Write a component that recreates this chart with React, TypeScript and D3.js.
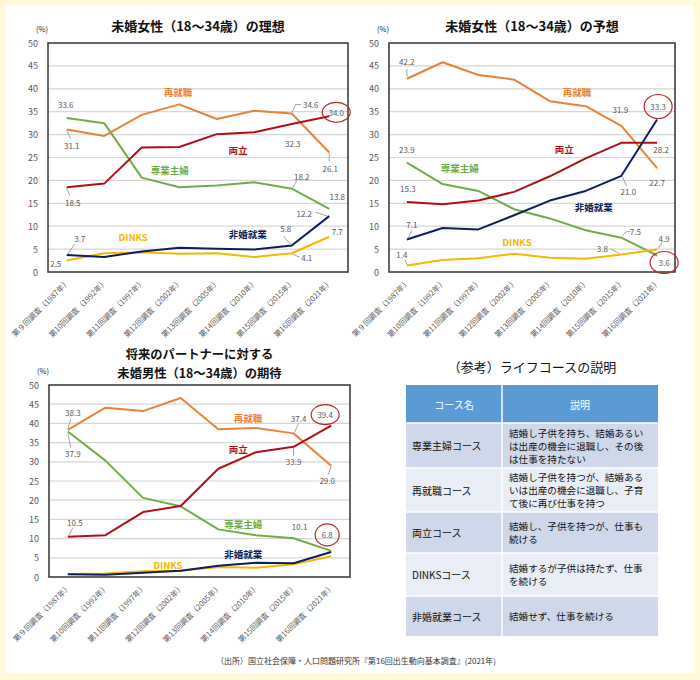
import React from "react";
import * as d3 from "d3";

const surveys = [
  "第９回調査（1987年）",
  "第10回調査（1992年）",
  "第11回調査（1997年）",
  "第12回調査（2002年）",
  "第13回調査（2005年）",
  "第14回調査（2010年）",
  "第15回調査（2015年）",
  "第16回調査（2021年）",
];
const yTicks = [0, 5, 10, 15, 20, 25, 30, 35, 40, 45, 50];
const seriesNames = ["専業主婦", "再就職", "両立", "DINKS", "非婚就業"];
const seriesColors = ["#70ad47", "#e8823a", "#b00f16", "#f5b800", "#0d1f5c"];

// Chart 1: 未婚女性の理想
const idealHousewife = [33.6, 32.5, 20.6, 18.5, 18.9, 19.6, 18.2, 13.8];
const idealReentry = [31.1, 29.7, 34.3, 36.6, 33.4, 35.2, 34.6, 26.1];
const idealBoth = [18.5, 19.3, 27.2, 27.3, 30.1, 30.5, 32.3, 34.0];
const idealDinks = [2.5, 4.1, 4.3, 4.0, 4.1, 3.3, 4.1, 7.7];
const idealSingle = [3.7, 3.3, 4.5, 5.3, 5.1, 4.9, 5.8, 12.2];

// Chart 2: 未婚女性の予想
const expHousewife = [23.9, 19.2, 17.7, 13.7, 11.7, 9.1, 7.5, 3.6];
const expReentry = [42.2, 45.8, 43.0, 42.0, 37.3, 36.2, 31.9, 22.7];
const expBoth = [15.3, 14.8, 15.6, 17.5, 20.9, 24.8, 28.2, 28.2];
const expDinks = [1.4, 2.6, 3.0, 4.0, 3.1, 2.9, 3.8, 4.9];
const expSingle = [7.1, 9.6, 9.3, 12.4, 15.6, 17.7, 21.0, 33.3];

// Chart 3: 未婚男性の期待
const menHousewife = [37.9, 30.3, 20.6, 18.4, 12.4, 10.9, 10.1, 6.8];
const menReentry = [38.3, 44.1, 43.2, 46.6, 38.5, 38.8, 37.4, 29.0];
const menBoth = [10.5, 10.9, 16.9, 18.5, 28.2, 32.5, 33.9, 39.4];
const menDinks = [0.8, 0.9, 1.5, 1.6, 2.6, 2.4, 3.3, 5.4];
const menSingle = [0.7, 0.6, 1.1, 1.6, 2.9, 3.7, 3.6, 6.5];

// Table
const tableHeaders = ["コース名", "説明"];
const courseNames = ["専業主婦コース", "再就職コース", "両立コース", "DINKSコース", "非婚就業コース"];
const courseDescLines = [
  ["結婚し子供を持ち、結婚あるい", "は出産の機会に退職し、その後", "は仕事を持たない"],
  ["結婚し子供を持つが、結婚ある", "いは出産の機会に退職し、子育", "て後に再び仕事を持つ"],
  ["結婚し、子供を持つが、仕事も", "続ける"],
  ["結婚するが子供は持たず、仕事", "を続ける"],
  ["結婚せず、仕事を続ける"],
];
const sourceText = "（出所）国立社会保障・人口問題研究所『第16回出生動向基本調査』(2021年)";

type Ann = { s: number; i: number; dx: number; dy: number; leader?: number[][]; ring?: [number, number] };
type NameLab = { s: number; i: number; v: number };
type ChartProps = {
  box: { x0: number; x1: number; y0: number; y1: number };
  data: number[][];
  titleLines: string[];
  titleY: number[];
  titleSize: number;
  anns: Ann[];
  names: NameLab[];
};

const FONT = "'Noto Sans CJK JP', 'Noto Sans', sans-serif";
const LABEL_GRAY = "#595959";

const chart1Anns: Ann[] = [
  { s: 0, i: 0, dx: -1, dy: -14 },
  { s: 1, i: 0, dx: 5, dy: 16, leader: [[0, 1], [4, 9]] },
  { s: 2, i: 0, dx: 6, dy: 15, leader: [[0, 1], [3, 8]] },
  { s: 4, i: 0, dx: 13, dy: -17, leader: [[1, -1], [8, -11]] },
  { s: 3, i: 0, dx: -11, dy: 3 },
  { s: 1, i: 6, dx: 19, dy: -9, leader: [[0, -1], [4, -9], [9, -9]] },
  { s: 2, i: 6, dx: 1, dy: 19 },
  { s: 2, i: 7, dx: 7, dy: -4, ring: [14, 10] },
  { s: 1, i: 7, dx: 1, dy: 16, leader: [[0, 1], [0, 9]] },
  { s: 0, i: 6, dx: 10, dy: -12, leader: [[1, -1], [5, -8]] },
  { s: 0, i: 7, dx: 8, dy: -12 },
  { s: 4, i: 7, dx: -25, dy: -3, leader: [[-2, 0], [-14, -4]] },
  { s: 4, i: 6, dx: -6, dy: -17, leader: [[-1, -1], [-8, -9]] },
  { s: 3, i: 7, dx: 8, dy: -5 },
  { s: 3, i: 6, dx: 15, dy: 4, leader: [[1, 1], [8, 4]] },
];
const chart1Names: NameLab[] = [
  { s: 1, i: 2.97, v: 39.3 },
  { s: 2, i: 4.57, v: 26.6 },
  { s: 0, i: 2.75, v: 22.3 },
  { s: 3, i: 1.77, v: 7.6 },
  { s: 4, i: 4.83, v: 8.3 },
];

const chart2Anns: Ann[] = [
  { s: 1, i: 0, dx: 0, dy: -17, leader: [[0, -2], [0, -10]] },
  { s: 0, i: 0, dx: 0, dy: -13 },
  { s: 2, i: 0, dx: 1, dy: -13 },
  { s: 4, i: 0, dx: 5, dy: -15, leader: [[1, -1], [5, -9]] },
  { s: 3, i: 0, dx: -5, dy: -11, leader: [[0, -1], [-2, -6]] },
  { s: 1, i: 6, dx: -1, dy: -16 },
  { s: 4, i: 7, dx: 1, dy: -13, ring: [14, 12] },
  { s: 2, i: 7, dx: 4, dy: 7 },
  { s: 1, i: 7, dx: 0, dy: 14 },
  { s: 4, i: 6, dx: 7, dy: 16, leader: [[1, 1], [5, 10]] },
  { s: 0, i: 6, dx: 14, dy: -6, leader: [[1, -2], [5, -6], [9, -6]] },
  { s: 3, i: 6, dx: -19, dy: -6, leader: [[-2, -1], [-11, -6]] },
  { s: 3, i: 7, dx: 7, dy: -11, leader: [[1, -1], [5, -7]] },
  { s: 0, i: 7, dx: 7, dy: 7, ring: [14, 11] },
];
const chart2Names: NameLab[] = [
  { s: 1, i: 4.76, v: 39.3 },
  { s: 2, i: 4.4, v: 26.9 },
  { s: 0, i: 1.48, v: 22.7 },
  { s: 4, i: 5.23, v: 14.2 },
  { s: 3, i: 3.08, v: 6.6 },
];

const chart3Anns: Ann[] = [
  { s: 1, i: 0, dx: 5, dy: -17, leader: [[0, -1], [3, -11]] },
  { s: 0, i: 0, dx: 5, dy: 22, leader: [[0, 2], [3, 16]] },
  { s: 2, i: 0, dx: 7, dy: -14, leader: [[1, -1], [5, -9]] },
  { s: 1, i: 6, dx: 5, dy: -15, leader: [[1, -1], [5, -10]] },
  { s: 2, i: 6, dx: 0, dy: 15, leader: [[0, 1], [0, 9]] },
  { s: 2, i: 7, dx: -6, dy: -11, ring: [14, 10] },
  { s: 1, i: 7, dx: -4, dy: 15, leader: [[0, 1], [-3, 9]] },
  { s: 0, i: 6, dx: 6, dy: -12 },
  { s: 0, i: 7, dx: -4, dy: -16, ring: [12, 11] },
];
const chart3Names: NameLab[] = [
  { s: 1, i: 4.79, v: 41.5 },
  { s: 2, i: 4.53, v: 33.4 },
  { s: 0, i: 4.66, v: 13.7 },
  { s: 4, i: 4.66, v: 6.0 },
  { s: 3, i: 2.66, v: 3.1 },
];

function LineChart({ box, data, titleLines, titleY, titleSize, anns, names }: ChartProps) {
  const x = d3.scaleBand<string>().domain(surveys).range([box.x0, box.x1]);
  const bw = x.bandwidth();
  const xc = (i: number) => (x(surveys[0]) as number) + bw * (i + 0.5);
  const y = d3.scaleLinear().domain([0, 50]).range([box.y1, box.y0]);
  const line = d3
    .line<number>()
    .x((_, i) => xc(i))
    .y((d) => y(d));
  const cx = (box.x0 + box.x1) / 2;
  return (
    <g>
      {titleLines.map((t, k) => (
        <text key={k} x={cx} y={titleY[k]} textAnchor="middle" dominantBaseline="central"
          fontSize={titleSize} fontWeight="bold" fill="#111" fontFamily={FONT}>{t}</text>
      ))}
      <text x={box.x0 - 6} y={box.y0 - 15} textAnchor="middle" dominantBaseline="central"
        fontSize={7.5} fill="#222" fontFamily={FONT}>(%)</text>
      {yTicks.map((t) => (
        <g key={t}>
          {t > 0 && t < 50 && (
            <line x1={box.x0} x2={box.x1} y1={y(t)} y2={y(t)} stroke="#d6d6d6" strokeWidth={1.2} />
          )}
          <text x={box.x0 - 10} y={y(t)} textAnchor="end" dominantBaseline="central"
            fontSize={9} fill={LABEL_GRAY} fontFamily={FONT}>{t}</text>
        </g>
      ))}
      <rect x={box.x0} y={box.y0} width={box.x1 - box.x0} height={box.y1 - box.y0}
        fill="none" stroke="#333" strokeWidth={1.5} />
      {surveys.map((s, i) => (
        <text key={s} transform={`translate(${xc(i) + 1},${box.y1 + 8}) rotate(-45)`}
          textAnchor="end" dominantBaseline="central" fontSize={7.6} fill={LABEL_GRAY} fontFamily={FONT}>{s}</text>
      ))}
      {data.map((d, s) => (
        <path key={s} d={line(d) as string} fill="none" stroke={seriesColors[s]} strokeWidth={2}
          strokeLinejoin="round" />
      ))}
      {anns.map((a, k) => {
        const px = xc(a.i);
        const py = y(data[a.s][a.i]);
        const lx = px + a.dx;
        const ly = py + a.dy;
        return (
          <g key={k}>
            {a.leader && (
              <polyline points={a.leader.map((p) => `${px + p[0]},${py + p[1]}`).join(" ")}
                fill="none" stroke="#8c8c8c" strokeWidth={0.8} />
            )}
            {a.ring && (
              <ellipse cx={lx} cy={ly} rx={a.ring[0]} ry={a.ring[1]} fill="none" stroke="#c0282d" strokeWidth={1.2} />
            )}
            <text x={lx} y={ly} textAnchor="middle" dominantBaseline="central" fontSize={8}
              fill={LABEL_GRAY} fontFamily={FONT}>{data[a.s][a.i].toFixed(1)}</text>
          </g>
        );
      })}
      {names.map((n, k) => (
        <text key={k} x={xc(n.i)} y={y(n.v)} textAnchor="middle" dominantBaseline="central"
          fontSize={9.5} fontWeight="bold" fill={seriesColors[n.s]} fontFamily={FONT}>{seriesNames[n.s]}</text>
      ))}
    </g>
  );
}

function CourseTable() {
  const x0 = 406, x1 = 658, xs = 502;
  const rowEdges = [385, 423, 468, 512, 553, 596, 636];
  const rowFill = ["#cfd8ea", "#e9edf5", "#cfd8ea", "#e9edf5", "#cfd8ea"];
  return (
    <g fontFamily={FONT}>
      <text x={(x0 + x1) / 2} y={366} textAnchor="middle" dominantBaseline="central" fontSize={13} fill="#111">
        （参考）ライフコースの説明
      </text>
      <rect x={x0} y={rowEdges[0]} width={x1 - x0} height={rowEdges[1] - rowEdges[0]} fill="#5b9bd5" />
      <text x={(x0 + xs) / 2} y={(rowEdges[0] + rowEdges[1]) / 2} textAnchor="middle" dominantBaseline="central"
        fontSize={10} fill="#fff">{tableHeaders[0]}</text>
      <text x={(xs + x1) / 2} y={(rowEdges[0] + rowEdges[1]) / 2} textAnchor="middle" dominantBaseline="central"
        fontSize={10} fill="#fff">{tableHeaders[1]}</text>
      {courseNames.map((c, r) => {
        const t = rowEdges[r + 1];
        const b = rowEdges[r + 2];
        const mid = (t + b) / 2;
        const lines = courseDescLines[r];
        const lh = 13;
        return (
          <g key={c}>
            <rect x={x0} y={t} width={x1 - x0} height={b - t} fill={rowFill[r]} />
            <text x={x0 + 6} y={mid} dominantBaseline="central" fontSize={10} fill="#111">{c}</text>
            {lines.map((l, k) => (
              <text key={k} x={xs + 7} y={mid + (k - (lines.length - 1) / 2) * lh} dominantBaseline="central"
                fontSize={9.6} fill="#111">{l}</text>
            ))}
          </g>
        );
      })}
      {rowEdges.slice(1, -1).map((e) => (
        <line key={e} x1={x0} x2={x1} y1={e} y2={e} stroke="#fff" strokeWidth={1.5} />
      ))}
      <line x1={xs} x2={xs} y1={rowEdges[0]} y2={rowEdges[rowEdges.length - 1]} stroke="#fff" strokeWidth={1.5} />
    </g>
  );
}

export default function App() {
  return (
    <div style={{ position: "absolute", left: 0, top: 0 }}>
      <svg width={700} height={680} xmlns="http://www.w3.org/2000/svg" style={{ display: "block" }}>
        <rect x={0} y={0} width={700} height={680} fill="#fff8d9" />
        <rect x={5} y={5} width={689} height={668} fill="#ffffff" />
        <LineChart
          box={{ x0: 48, x1: 348, y0: 43, y1: 272 }}
          data={[idealHousewife, idealReentry, idealBoth, idealDinks, idealSingle]}
          titleLines={["未婚女性（18～34歳）の理想"]}
          titleY={[25]}
          titleSize={13}
          anns={chart1Anns}
          names={chart1Names}
        />
        <LineChart
          box={{ x0: 389, x1: 675, y0: 43, y1: 272 }}
          data={[expHousewife, expReentry, expBoth, expDinks, expSingle]}
          titleLines={["未婚女性（18～34歳）の予想"]}
          titleY={[25]}
          titleSize={13}
          anns={chart2Anns}
          names={chart2Names}
        />
        <LineChart
          box={{ x0: 49, x1: 350, y0: 385, y1: 577 }}
          data={[menHousewife, menReentry, menBoth, menDinks, menSingle]}
          titleLines={["将来のパートナーに対する", "未婚男性（18～34歳）の期待"]}
          titleY={[354, 372.5]}
          titleSize={12.3}
          anns={chart3Anns}
          names={chart3Names}
        />
        <CourseTable />
        <text x={356} y={660} textAnchor="middle" dominantBaseline="central" fontSize={8} fill="#333" fontFamily={FONT}>
          {sourceText}
        </text>
      </svg>
    </div>
  );
}
